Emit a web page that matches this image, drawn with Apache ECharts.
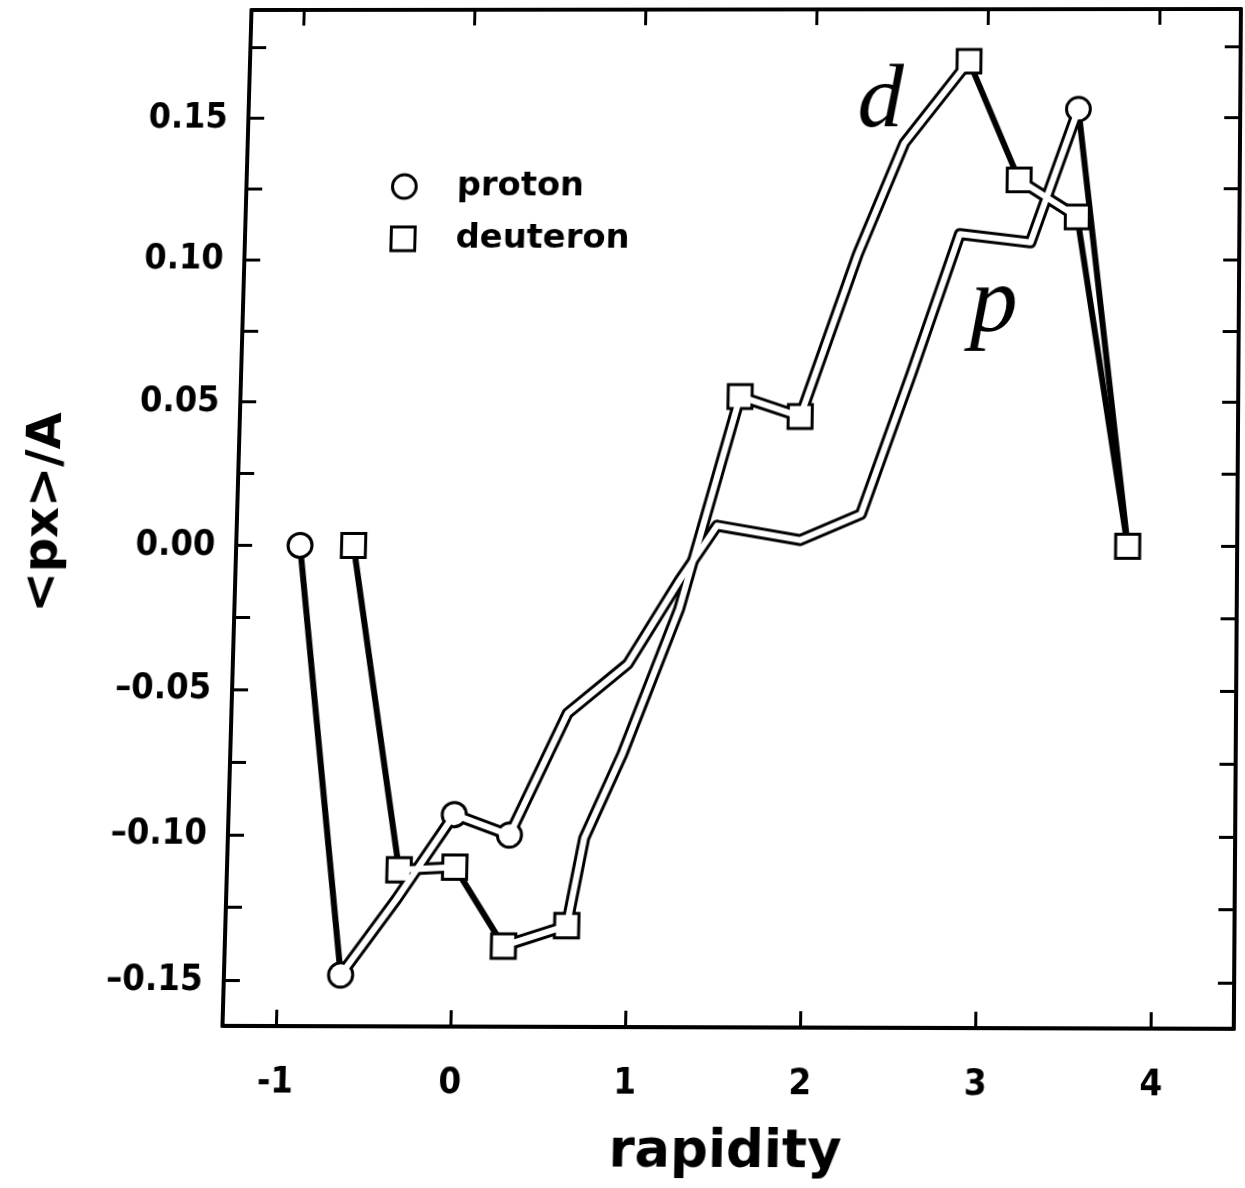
<!DOCTYPE html>
<html>
<head>
<meta charset="utf-8">
<script src="https://cdn.jsdelivr.net/npm/echarts@6/dist/echarts.min.js"></script>
<style>
  html, body { margin: 0; padding: 0; background: #fff; overflow: hidden; }
  #chart { width: 1245px; height: 1188px; transform-origin: 0 0; }
</style>
</head>
<body>
<div id="chart"></div>
<script>
// Mean transverse momentum per nucleon <px>/A vs. rapidity
const protonRapidity   = [-0.94, -0.64, -0.33, -0.01, 0.31, 0.63, 0.97, 1.26, 1.47, 1.95, 2.30, 2.58, 2.85, 3.26, 3.53, 3.84];
const protonPx         = [0.000, -0.148, -0.122, -0.093, -0.100, -0.058, -0.041, -0.012, 0.007, 0.002, 0.011, 0.060, 0.109, 0.106, 0.153, 0.000];
const deuteronRapidity = [-0.63, -0.32, 0.00, 0.29, 0.65, 0.74, 0.95, 1.26, 1.59, 1.94, 2.26, 2.52, 2.89, 3.19, 3.53, 3.84];
const deuteronPx       = [0.000, -0.112, -0.111, -0.138, -0.131, -0.101, -0.072, -0.022, 0.052, 0.045, 0.102, 0.141, 0.170, 0.128, 0.115, 0.000];

// which points carry a visible symbol
const protonMarked   = [0, 1, 3, 4, 14];
const deuteronMarked = [0, 1, 2, 3, 4, 8, 9, 12, 13, 14, 15];
// segments (i -> i+1) drawn as a plain solid stroke instead of a hollow band
const protonSolidSegments   = [0, 14];
const deuteronSolidSegments = [0, 2, 12, 14];

const xTickValues  = [-1, 0, 1, 2, 3, 4];
const yLabelValues = [-0.15, -0.10, -0.05, 0.00, 0.05, 0.10, 0.15];
const yTickValues  = [-0.15, -0.125, -0.10, -0.075, -0.05, -0.025, 0.00, 0.025, 0.05, 0.075, 0.10, 0.125, 0.15, 0.175];

// plot frame (grid rectangle) and where its corners sit on the scanned sheet
const GRID = { left: 237, top: 10, right: 1237, bottom: 1027 };
const SHEET_CORNERS = [[251.5, 10], [1241, 9], [1234, 1029], [222.5, 1026]];

const GAP = ['-', '-'];

function pts(xs, ys) { return xs.map((x, i) => [x, ys[i]]); }

function hollowPath(p, solid) {
  const out = [];
  p.forEach((pt, i) => {
    out.push(pt);
    if (solid.includes(i)) out.push(GAP);
  });
  return out;
}
function solidPath(p, solid) {
  const out = [];
  solid.forEach(i => { out.push(p[i], p[i + 1], GAP); });
  return out;
}

const proton = pts(protonRapidity, protonPx);
const deuteron = pts(deuteronRapidity, deuteronPx);

const FONT = 'DejaVu Sans';
const TICK_FONT = '"DejaVu Sans Condensed", "DejaVu Sans", sans-serif';

function lineSeries(data, color, width, z) {
  return {
    type: 'line', data, z, silent: true, symbol: 'none', showSymbol: false,
    connectNulls: false, animation: false,
    lineStyle: { color, width, cap: 'round', join: 'round' }
  };
}
function markerSeries(name, data, symbol) {
  return {
    type: 'scatter', name, data, z: 5, symbol, symbolSize: 24, silent: true, animation: false,
    itemStyle: { color: '#fff', borderColor: '#000', borderWidth: 3, opacity: 1 }
  };
}

const axisLine = { show: true, onZero: false, lineStyle: { color: '#000', width: 4 } };
const X_MIN = -1.31, X_MAX = 4.47, Y_MIN = -0.1655, Y_MAX = 0.1884;

const option = {
  backgroundColor: '#fff',
  animation: false,
  grid: { left: GRID.left, right: 1245 - GRID.right, top: GRID.top, bottom: 1188 - GRID.bottom,
          containLabel: false, outerBoundsMode: 'none' },
  legend: {
    orient: 'vertical', left: 378, top: 168, itemWidth: 24, itemHeight: 24, itemGap: 19,
    data: [{ name: 'proton', icon: 'circle' }, { name: 'deuteron', icon: 'rect' }],
    itemStyle: { color: '#fff', borderColor: '#000', borderWidth: 3 },
    textStyle: { fontFamily: FONT, fontSize: 34, fontWeight: 'bold', color: '#000', padding: [0, 0, 0, 36] },
    selectedMode: false
  },
  xAxis: [
    {
      type: 'value', min: X_MIN, max: X_MAX, position: 'bottom',
      name: 'rapidity', nameLocation: 'middle', nameGap: 96,
      nameTextStyle: { fontFamily: FONT, fontSize: 52, fontWeight: 'bold', color: '#000' },
      axisLine,
      axisTick: { show: true, inside: true, length: 16, customValues: xTickValues, lineStyle: { color: '#000', width: 3 } },
      axisLabel: { customValues: xTickValues, margin: 38, fontFamily: TICK_FONT, fontSize: 36, fontWeight: 'bold', color: '#000',
                   formatter: v => String(v) },
      splitLine: { show: false }
    },
    {
      type: 'value', min: X_MIN, max: X_MAX, position: 'top',
      axisLine,
      axisTick: { show: true, inside: true, length: 16, customValues: xTickValues, lineStyle: { color: '#000', width: 3 } },
      axisLabel: { show: false },
      splitLine: { show: false }
    }
  ],
  yAxis: [
    {
      type: 'value', min: Y_MIN, max: Y_MAX, position: 'left',
      name: '<px>/A', nameLocation: 'middle', nameGap: 168, nameRotate: 90,
      nameTextStyle: { fontFamily: FONT, fontSize: 48, fontWeight: 'bold', color: '#000' },
      axisLine,
      axisTick: { show: true, inside: true, length: 16, customValues: yTickValues, lineStyle: { color: '#000', width: 3 } },
      axisLabel: { customValues: yLabelValues, margin: 21, fontFamily: TICK_FONT, fontSize: 36, fontWeight: 'bold', color: '#000',
                   formatter: v => (v < 0 ? '\u2013' : '') + Math.abs(v).toFixed(2) },
      splitLine: { show: false }
    },
    {
      type: 'value', min: Y_MIN, max: Y_MAX, position: 'right',
      axisLine,
      axisTick: { show: true, inside: true, length: 16, customValues: yTickValues, lineStyle: { color: '#000', width: 3 } },
      axisLabel: { show: false },
      splitLine: { show: false }
    }
  ],
  graphic: [
    { type: 'text', left: 852, top: 59, z: 10, silent: true,
      style: { text: 'd', fontFamily: 'Liberation Serif', fontStyle: 'italic', fontSize: 92, fill: '#000' } },
    { type: 'text', left: 968, top: 264, z: 10, silent: true,
      style: { text: 'p', fontFamily: 'Liberation Serif', fontStyle: 'italic', fontSize: 95, fill: '#000' } }
  ],
  series: [
    // outer strokes of the hollow bands
    lineSeries(hollowPath(proton, protonSolidSegments), '#000', 12, 1),
    lineSeries(hollowPath(deuteron, deuteronSolidSegments), '#000', 12, 1),
    // plain solid strokes
    lineSeries(solidPath(proton, protonSolidSegments), '#000', 6, 2),
    lineSeries(solidPath(deuteron, deuteronSolidSegments), '#000', 6, 2),
    // symbols
    markerSeries('proton', protonMarked.map(i => proton[i]), 'circle'),
    markerSeries('deuteron', deuteronMarked.map(i => deuteron[i]), 'rect'),
    // white cores of the hollow bands
    lineSeries(hollowPath(proton, protonSolidSegments), '#fff', 6, 8),
    lineSeries(hollowPath(deuteron, deuteronSolidSegments), '#fff', 6, 8)
  ]
};

const el = document.getElementById('chart');
const chart = echarts.init(el, null, { renderer: 'canvas' });
chart.setOption(option);

// Projective map taking the grid rectangle onto the (slightly skewed) sheet frame.
function solve(A, b) {
  const n = b.length;
  for (let c = 0; c < n; c++) {
    let p = c;
    for (let r = c + 1; r < n; r++) if (Math.abs(A[r][c]) > Math.abs(A[p][c])) p = r;
    [A[c], A[p]] = [A[p], A[c]]; [b[c], b[p]] = [b[p], b[c]];
    for (let r = c + 1; r < n; r++) {
      const f = A[r][c] / A[c][c];
      for (let k = c; k < n; k++) A[r][k] -= f * A[c][k];
      b[r] -= f * b[c];
    }
  }
  const x = new Array(n).fill(0);
  for (let r = n - 1; r >= 0; r--) {
    let s = b[r];
    for (let k = r + 1; k < n; k++) s -= A[r][k] * x[k];
    x[r] = s / A[r][r];
  }
  return x;
}
function frameTransform() {
  const src = [[GRID.left, GRID.top], [GRID.right, GRID.top], [GRID.right, GRID.bottom], [GRID.left, GRID.bottom]];
  const A = [], b = [];
  for (let i = 0; i < 4; i++) {
    const [x, y] = src[i], [X, Y] = SHEET_CORNERS[i];
    A.push([x, y, 1, 0, 0, 0, -X * x, -X * y]); b.push(X);
    A.push([0, 0, 0, x, y, 1, -Y * x, -Y * y]); b.push(Y);
  }
  const h = solve(A, b);
  return `matrix3d(${h[0]},${h[3]},0,${h[6]},${h[1]},${h[4]},0,${h[7]},0,0,1,0,${h[2]},${h[5]},0,1)`;
}
el.style.transform = frameTransform();
</script>
</body>
</html>
